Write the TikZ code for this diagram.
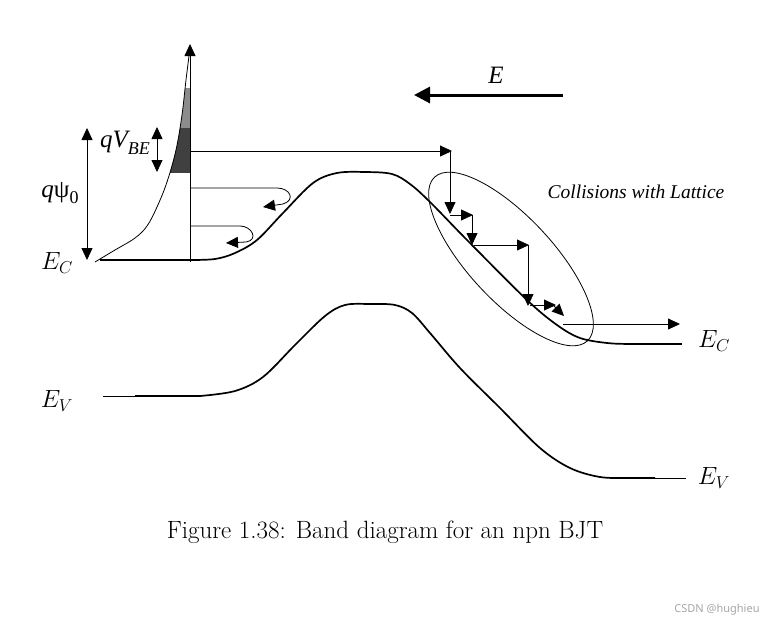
\documentclass[tikz,border=0pt]{standalone}
\usepackage{fontspec}
\newfontfamily\tms{Liberation Serif}
\newfontfamily\sans{Noto Sans}
\usetikzlibrary{arrows.meta}
\begin{document}
\begin{tikzpicture}[x=1pt,y=-1pt,
  band/.style={line width=1.7pt,line join=round},
  thin/.style={line width=0.8pt},
  tip/.style={-{Triangle[length=12pt,width=11pt]}},
  dtip/.style={{Triangle[length=12pt,width=11pt]}-{Triangle[length=12pt,width=11pt]}},
  lbl/.style={inner sep=0pt,font=\fontsize{24}{28}\selectfont},
  tlbl/.style={inner sep=0pt,font=\tms\itshape\fontsize{25}{28}\selectfont}]
\useasboundingbox (0,0) rectangle (776,627);
\def\occ{plot[smooth,tension=0.6] coordinates {(95,262) (115,250) (135,238) (147,226) (157,207) (167,182) (176,150) (182,115) (186,80) (190,48)}}
% filled occupancy
\begin{scope}
  \clip (150,127) rectangle (190,172);
  \fill[black!75] \occ -- (190,262) -- cycle;
\end{scope}
\begin{scope}
  \clip (150,88) rectangle (190,127);
  \fill[black!45] \occ -- (190,262) -- cycle;
\end{scope}
\draw[thin] \occ;
% axis
\draw[thin,tip] (190,262) -- (190,44);
% conduction band
\draw[band] (100,260) -- (190,260) plot[smooth,tension=0.55] coordinates {(190,260) (215,259) (235,253) (257,240) (283,213) (313,183) (337,173) (365,172) (392,174) (410,184) (430,202) (467,240) (527,300) (557,325) (580,338) (607,343) (630,344) (655,344)};
\draw[line width=2.2pt] (652,344) -- (682,344);
% valence band
\draw[thin] (103,396) -- (140,396);
\draw[band] (135,396) -- (200,396) plot[smooth,tension=0.55] coordinates {(200,396) (235,391) (263,377) (295,345) (325,316) (345,305) (370,304) (395,305) (412,313) (430,333) (460,368) (500,408) (540,448) (570,468) (600,477) (630,478) (655,478)};
\draw[thin] (650,478) -- (686,478);
% qpsi0 and qVBE
\draw[thin,dtip] (87,128) -- (87,260);
\draw[thin,dtip] (157,127) -- (157,172);
% injected electrons
\draw[thin,tip] (190,151) -- (452,151);
\draw[thin,tip] (450,151) -- (450,214);
\draw[thin,tip] (450,215) -- (473,215);
\draw[thin,tip] (472,215) -- (472,245);
\draw[thin,tip] (474,245) -- (529,245);
\draw[thin,tip] (528,245) -- (528,306);
\draw[thin,tip] (530,305) -- (556,305);
\draw[thin,tip] (553,305) -- (564,316);
\draw[thin,tip] (563,324) -- (680,324);
% back-scattered electrons
\draw[thin,tip] (190,188) -- (277,188) .. controls (290,188) and (296,200) .. (283,204) -- (263,207);
\draw[thin,tip] (190,226) -- (240,226) .. controls (252,226) and (259,240) .. (246,242) -- (226,243);
% ellipse
\draw[thin] (511,259) ellipse [x radius=112, y radius=42, rotate=-47];
% field
\draw[line width=3pt,-{Triangle[length=16pt,width=16pt]}] (563,95) -- (414,95);
% labels
\node[tlbl] (e) at (496,75) {E};
\node[tlbl,anchor=center] (psi) at (60,193) {q{\upshape ψ}\raisebox{-0.25em}{\upshape\fontsize{18}{20}\selectfont 0}};
\node[tlbl] (vbe) at (125,143) {qV\raisebox{-0.3em}{\fontsize{18}{20}\selectfont BE}};
\node[lbl] (ecl) at (57,263) {$E_C$};
\node[lbl] (evl) at (57,401) {$E_V$};
\node[lbl] (ecr) at (714,341) {$E_C$};
\node[lbl] (evr) at (714,478) {$E_V$};
\node[inner sep=0pt,font=\tms\itshape\fontsize{19.5}{22}\selectfont] (col) at (636,192) {Collisions with Lattice};
\node[inner sep=0pt,font=\fontsize{25}{30}\selectfont] (cap) at (385,532) {Figure 1.38: Band diagram for an npn BJT};
\node[inner sep=0pt,font=\sans\fontsize{11}{13}\selectfont,text=black!35] (wm) at (717,610) {CSDN @hughieu};
\end{tikzpicture}
\end{document}
